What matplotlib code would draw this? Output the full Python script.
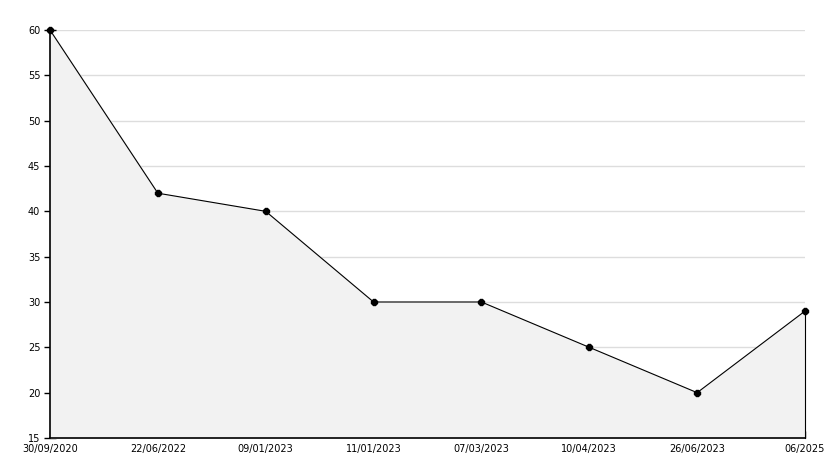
import matplotlib
import matplotlib.pyplot as plt
import numpy as np
from matplotlib.ticker import MultipleLocator

matplotlib.rc('font', size=7, family='DejaVu Sans')

dates = ['30/09/2020', '22/06/2022', '09/01/2023', '11/01/2023',
         '07/03/2023', '10/04/2023', '26/06/2023', '06/2025']
values = [60, 42, 40, 30, 30, 25, 20, 29]

fig = plt.figure(figsize=(8.34, 4.68), dpi=100)
ax = fig.add_axes([50 / 834, 30 / 468, 755 / 834, 408 / 468])

x = np.arange(len(dates))
ax.fill_between(x, values, 15, color='#f2f2f2', zorder=1)
# right edge line down to axis
ax.plot([x[-1], x[-1]], [15, values[-1]], color='black', lw=0.8, zorder=3, clip_on=False)
ax.plot(x, values, color='black', lw=0.8, marker='8', ms=4.5, zorder=4, clip_on=False)

ax.set_xlim(0, len(dates) - 1)
ax.set_ylim(15, 60)
ax.yaxis.set_major_locator(MultipleLocator(5))
ax.yaxis.set_minor_locator(MultipleLocator(1))
ax.set_xticks(x)
ax.set_xticklabels(dates)
ax.grid(axis='y', color='#dddddd', lw=1, zorder=0)
ax.set_axisbelow(True)

for s in ['top', 'right']:
    ax.spines[s].set_visible(False)
for s in ['left', 'bottom']:
    ax.spines[s].set_linewidth(1.2)

ax.tick_params(axis='y', which='major', direction='inout', length=8, width=1, pad=3)
ax.tick_params(axis='y', which='minor', direction='in', length=4, width=1)
ax.tick_params(axis='x', which='major', direction='in', length=5, width=1, pad=4)

fig.savefig('out.png', dpi=100)
